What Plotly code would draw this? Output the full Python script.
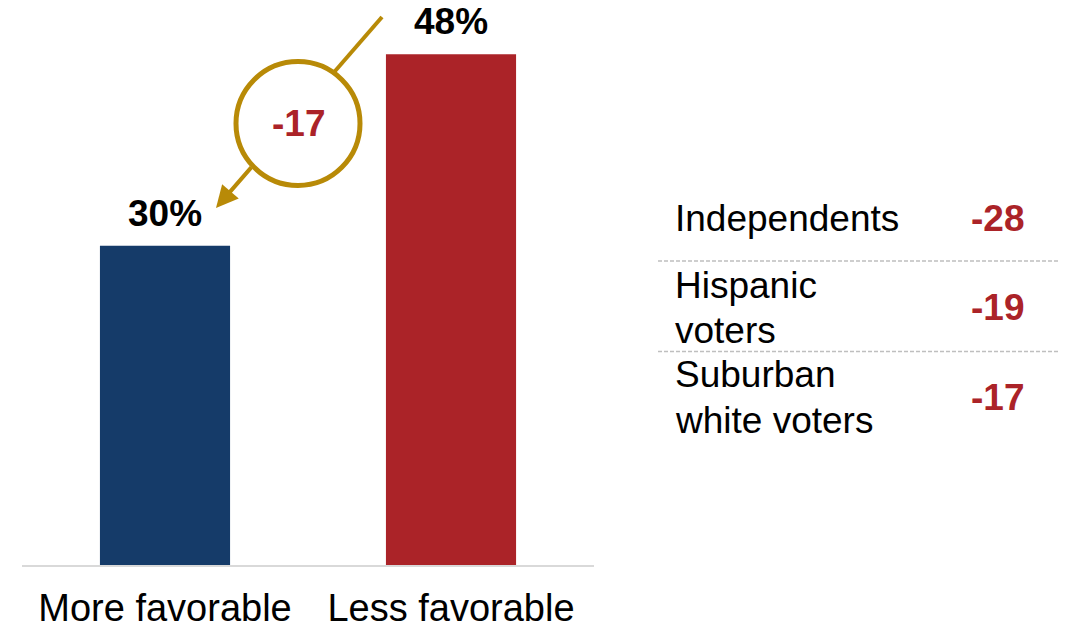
import plotly.graph_objects as go

# ---- data ----
categories = ["More favorable", "Less favorable"]
values = [30, 48]
bar_colors = ["#153b69", "#ab2328"]
gap_label = "-17"
groups = ["Independents", "Hispanic<br>voters", "Suburban<br>white voters"]
group_margins = [-28, -19, -17]

FONT = "Arial, Liberation Sans, sans-serif"
FS = 37
RED = "#ab2328"
GOLD = "#b88a07"

fig = go.Figure()
fig.add_trace(go.Bar(
    x=categories, y=values, marker=dict(color=bar_colors, line=dict(width=0)),
    width=0.455, hoverinfo="skip",
))

# value labels above bars
for c, v in zip(categories, values):
    fig.add_annotation(x=c, y=v, text=f"<b>{v}%</b>", showarrow=False,
                       yanchor="bottom", yshift=10,
                       font=dict(family=FONT, size=FS, color="black"))

# geometry helpers (pixel -> data) for the decorative arrow/circle
L, R, T, B = 22, 594, 0, 565
YMAX = 53.1
def dx(px):
    return (px - 164) / 286.0
def dy(py):
    return (B - py) / ((B - T) / YMAX)

# arrow: top segment
fig.add_shape(type="line", xref="x", yref="y",
              x0=dx(381), y0=dy(17), x1=dx(332.6), y1=dy(72.7),
              line=dict(color=GOLD, width=4))
# circle
fig.add_shape(type="circle", xref="x", yref="y",
              x0=dx(235), x1=dx(359), y0=dy(185.5), y1=dy(61.5),
              line=dict(color=GOLD, width=5), fillcolor="white", layer="above")
# arrow: bottom segment with head
fig.add_annotation(x=dx(215), y=dy(208), ax=dx(251.6), ay=dy(165.9),
                   xref="x", yref="y", axref="x", ayref="y",
                   showarrow=True, arrowhead=2, arrowsize=1.1, arrowwidth=4,
                   arrowcolor=GOLD, text="")
fig.add_annotation(x=dx(297), y=dy(123.5), xref="x", yref="y",
                   text=f"<b>{gap_label}</b>", showarrow=False,
                   font=dict(family=FONT, size=FS, color=RED))

# right-hand table
def px_x(px):
    return (px - L) / (R - L)
def px_y(py):
    return (B - py) / (B - T)

row_centers = [218, 307.5, 397.5]
LINE_GAP = 45
for g, m, yc in zip(groups, group_margins, row_centers):
    lines = g.split("<br>")
    n = len(lines)
    for i, ln in enumerate(lines):
        ly = yc + (i - (n - 1) / 2) * LINE_GAP
        fig.add_annotation(xref="paper", yref="paper", x=px_x(673), y=px_y(ly),
                           xanchor="left", yanchor="middle", align="left",
                           text=ln, showarrow=False,
                           font=dict(family=FONT, size=FS, color="black"))
    fig.add_annotation(xref="paper", yref="paper", x=px_x(1026), y=px_y(yc),
                       xanchor="right", yanchor="middle",
                       text=f"<b>{m}</b>", showarrow=False,
                       font=dict(family=FONT, size=FS, color=RED))

for ly in [261, 351.5]:
    fig.add_shape(type="line", xref="paper", yref="paper",
                  x0=px_x(658), x1=px_x(1058), y0=px_y(ly), y1=px_y(ly),
                  line=dict(color="#bfbfbf", width=1.5, dash="4px,2px"))

fig.update_layout(
    width=1074, height=627,
    margin=dict(l=L, r=1074 - R, t=T, b=627 - B, autoexpand=False),
    plot_bgcolor="white", paper_bgcolor="white",
    showlegend=False,
    font=dict(family=FONT, size=FS, color="black"),
    xaxis=dict(showgrid=False, showline=True, linecolor="#d9d9d9", linewidth=2,
               ticks="", ticklabelstandoff=8, automargin=False,
               tickfont=dict(family=FONT, size=FS + 1, color="black"),
               range=[-0.5, 1.5], fixedrange=True),
    yaxis=dict(range=[0, YMAX], visible=False, fixedrange=True, automargin=False),
)

fig.write_html("out.html", config={"displayModeBar": False},
               post_script="document.body.style.margin='0';")
